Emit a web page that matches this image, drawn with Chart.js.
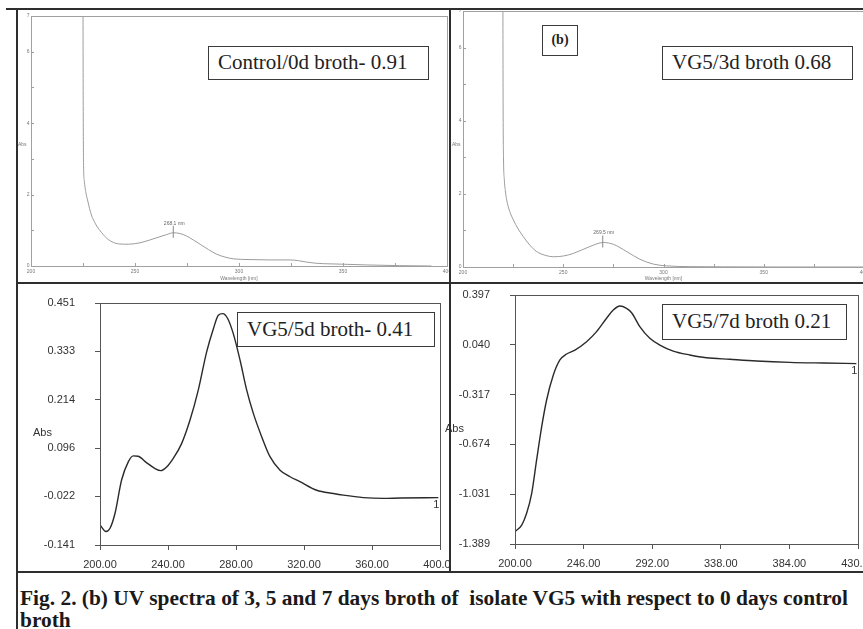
<!DOCTYPE html>
<html>
<head>
<meta charset="utf-8">
<script src="https://cdn.jsdelivr.net/npm/chart.js@4.4.0/dist/chart.umd.min.js"></script>
<style>
  body { margin: 0; width: 863px; height: 629px; overflow: hidden; background: #fff; position: relative; font-family: "Liberation Sans", Arial, sans-serif; }
  canvas { position: absolute; }
  .rule { position: absolute; background: #2e2e2e; z-index: 5; }
  .box { position: absolute; box-sizing: border-box; border: 1.5px solid #3a3a3a; background: #fff; font-family: "Liberation Serif", "Times New Roman", serif; font-size: 21px; color: #222; padding-left: 9px; white-space: nowrap; z-index: 3; }
  .abs { position: absolute; color: #333; z-index: 2; }
  .tiny { font-size: 5px; color: #777; }
  .caption { position: absolute; left: 20px; top: 587px; font-family: "Liberation Serif", "Times New Roman", serif; font-weight: bold; font-size: 20px; line-height: 22px; color: #1a1a1a; white-space: pre; transform-origin: 0 0; }
</style>
</head>
<body>

<canvas id="control" width="431" height="272" style="left:18px; top:10px"></canvas>
<canvas id="day3" width="420" height="272" style="left:451px; top:10px"></canvas>
<canvas id="day5" width="431" height="287" style="left:18px; top:284px"></canvas>
<canvas id="day7" width="412" height="287" style="left:451px; top:284px"></canvas>

<div class="rule" style="left:6px; top:8px; width:857px; height:2px"></div>
<div class="rule" style="left:16px; top:8px; width:2px; height:621px"></div>
<div class="rule" style="left:449px; top:8px; width:2px; height:565px"></div>
<div class="rule" style="left:16px; top:282px; width:847px; height:2px"></div>
<div class="rule" style="left:16px; top:571px; width:847px; height:2px"></div>

<div class="box" style="left:208px; top:46px; width:221px; height:34px; line-height:31px">Control/0d broth- 0.91</div>
<div class="box" style="left:542px; top:25px; width:36px; height:31px; line-height:28px; padding:0; text-align:center; font-weight:bold; font-size:14px">(b)</div>
<div class="box" style="left:662px; top:46px; width:191px; height:34px; line-height:31px">VG5/3d broth 0.68</div>
<div class="box" style="left:237px; top:312px; width:198px; height:35px; line-height:32px">VG5/5d broth- 0.41</div>
<div class="box" style="left:662px; top:304px; width:185px; height:36px; line-height:33px">VG5/7d broth 0.21</div>

<div class="abs tiny" style="left:18px; top:141px">Abs</div>
<div class="abs tiny" style="left:452px; top:141px">Abs</div>
<div class="abs" style="left:33px; top:426px; font-size:11px">Abs</div>
<div class="abs" style="left:445px; top:422px; font-size:11px">Abs</div>

<div class="caption" id="caption">Fig. 2. (b) UV spectra of 3, 5 and 7 days broth of  isolate VG5 with respect to 0 days control
broth</div>

<script>
// control / 0 day broth
const controlWavelength = [225.0, 225.1, 225.25, 225.6, 226.4, 227.3, 228.2, 229.2, 230.4, 231.6, 234.0, 237.2, 242.0, 246.8, 252.4, 257.2, 262.0, 265.2, 268.4, 271.6, 274.8, 278.0, 281.3, 285.3, 289.3, 293.3, 297.3, 305.3, 315.0, 324.5, 328.5, 332.5, 336.5, 340.5, 350.0, 361.3, 377.3, 392.5];
const controlAbs = [7.3, 4.5, 2.9, 2.4, 2.05, 1.82, 1.60, 1.40, 1.25, 1.12, 0.93, 0.74, 0.62, 0.61, 0.65, 0.73, 0.82, 0.88, 0.93, 0.91, 0.84, 0.73, 0.61, 0.46, 0.33, 0.25, 0.20, 0.18, 0.17, 0.17, 0.15, 0.11, 0.08, 0.065, 0.05, 0.03, 0.01, 0.0];
const controlPeak = [268.4, 0.93];

// VG5 3 day broth
const day3Wavelength = [219.9, 220.0, 220.2, 220.6, 221.2, 221.8, 223.3, 225.1, 227.5, 230.1, 233.3, 236.8, 241.0, 245.0, 250.0, 255.0, 263.3, 270.0, 275.0, 281.7, 288.3, 294.9, 301.6, 313.0, 330.0, 360.0, 400.0];
const day3Abs = [7.3, 4.5, 3.0, 2.4, 2.05, 1.83, 1.52, 1.29, 1.04, 0.83, 0.60, 0.42, 0.32, 0.28, 0.30, 0.37, 0.56, 0.67, 0.62, 0.42, 0.21, 0.08, 0.03, 0.01, 0.005, 0.0, 0.0];
const day3Peak = [269.7, 0.67];

// VG5 5 day broth
const day5Wavelength = [200.0, 203.5, 205.9, 208.8, 212.7, 216.7, 219.6, 222.5, 227.5, 232.4, 235.7, 239.2, 243.1, 248.0, 252.9, 257.8, 262.7, 266.7, 269.6, 272.2, 275.1, 278.4, 282.4, 286.3, 290.2, 295.1, 300.0, 305.9, 311.8, 317.6, 327.5, 337.3, 343.1, 354.9, 366.7, 376.5, 399.0];
const day5Abs = [-0.092, -0.108, -0.100, -0.064, 0.018, 0.063, 0.077, 0.076, 0.060, 0.046, 0.041, 0.050, 0.071, 0.107, 0.164, 0.238, 0.331, 0.388, 0.421, 0.425, 0.413, 0.376, 0.311, 0.238, 0.181, 0.124, 0.075, 0.042, 0.026, 0.014, -0.007, -0.015, -0.019, -0.025, -0.027, -0.026, -0.025];

// VG5 7 day broth
const day7Wavelength = [200.0, 204.5, 207.8, 211.2, 214.5, 217.9, 221.2, 225.7, 230.1, 234.6, 240.2, 248.0, 254.7, 261.4, 265.9, 270.3, 274.8, 278.2, 283.7, 290.4, 297.1, 306.1, 317.2, 328.4, 344.0, 361.9, 384.2, 406.6, 428.9];
const day7Abs = [-1.300, -1.253, -1.169, -1.026, -0.786, -0.547, -0.356, -0.177, -0.069, -0.026, 0.002, 0.062, 0.134, 0.230, 0.289, 0.318, 0.301, 0.270, 0.170, 0.086, 0.038, -0.005, -0.033, -0.053, -0.064, -0.076, -0.086, -0.091, -0.095];

// ticks
const topXTicks = [200, 225, 250, 275, 300, 325, 350, 375, 400];
const topXLabels = ['200', '', '250', '', '300', '', '350', '', '400'];
const topYTicks = [0, 1, 2, 3, 4, 5, 6, 7];
const topYLabels = ['0', '', '2', '', '4', '', '6', '7'];
const day5XTicks = [200, 240, 280, 320, 360, 400];
const day5XLabels = ['200.00', '240.00', '280.00', '320.00', '360.00', '400.00'];
const day5YTicks = [-0.141, -0.022, 0.096, 0.214, 0.333, 0.451];
const day5YLabels = ['-0.141', '-0.022', '0.096', '0.214', '0.333', '0.451'];
const day7XTicks = [200, 246, 292, 338, 384, 430];
const day7XLabels = ['200.00', '246.00', '292.00', '338.00', '384.00', '430.00'];
const day7YTicks = [-1.389, -1.031, -0.674, -0.317, 0.040, 0.397];
const day7YLabels = ['-1.389', '-1.031', '-0.674', '-0.317', '0.040', '0.397'];

const sansFont = '"Liberation Sans", Arial, sans-serif';

const panelExtras = {
    id: 'panelExtras',
    afterDatasetsDraw(chart, args, opts) {
        const ctx = chart.ctx;
        const { left, right, top, bottom } = chart.chartArea;
        const xs = chart.scales.x, ys = chart.scales.y;
        ctx.save();
        ctx.strokeStyle = opts.frameColor;
        ctx.lineWidth = 1;
        ctx.strokeRect(Math.round(left) + 0.5, Math.round(top) + 0.5, Math.round(right - left), Math.round(bottom - top));

        if (opts.innerTicks) {
            ctx.beginPath();
            xs.ticks.forEach(t => {
                const px = Math.round(xs.getPixelForValue(t.value)) + 0.5;
                ctx.moveTo(px, bottom);
                ctx.lineTo(px, bottom - 3);
            });
            ys.ticks.forEach(t => {
                const py = Math.round(ys.getPixelForValue(t.value)) + 0.5;
                ctx.moveTo(left, py);
                ctx.lineTo(left + 3, py);
            });
            ctx.stroke();
        }

        if (opts.peak) {
            const px = xs.getPixelForValue(opts.peak[0]);
            const py = ys.getPixelForValue(opts.peak[1]);
            ctx.strokeStyle = '#888';
            ctx.beginPath();
            ctx.moveTo(px, py - 7);
            ctx.lineTo(px, py + 5);
            ctx.stroke();
            ctx.fillStyle = '#666';
            ctx.font = '5px ' + sansFont;
            ctx.textAlign = 'center';
            ctx.textBaseline = 'bottom';
            ctx.fillText(opts.peakLabel, px + 1, py - 7);
        }

        if (opts.endLabel) {
            const pts = chart.getDatasetMeta(0).data;
            const last = pts[pts.length - 1];
            ctx.fillStyle = '#333';
            ctx.font = '11px ' + sansFont;
            ctx.textAlign = 'center';
            ctx.textBaseline = 'middle';
            ctx.fillText(opts.endLabel, last.x - 2, last.y + 7);
        }
        ctx.restore();
    }
};

function spectrumChart(canvasId, s) {
    const small = s.small;
    const tickFont = { family: sansFont, size: small ? 5 : 11 };
    const tickColor = small ? '#777' : '#333';
    const axisColor = small ? '#a0a0a0' : '#555';
    return new Chart(document.getElementById(canvasId), {
        type: 'line',
        data: {
            datasets: [{
                data: s.wavelength.map((w, i) => ({ x: w, y: s.abs[i] })),
                borderColor: small ? '#9c9c9c' : '#2a2a2a',
                borderWidth: small ? 1 : 1.4,
                pointRadius: 0,
                cubicInterpolationMode: 'monotone',
                fill: false
            }]
        },
        options: {
            responsive: false,
            animation: false,
            devicePixelRatio: 1,
            events: [],
            layout: { padding: { top: s.padTop, right: s.padRight, bottom: 0, left: 0 } },
            plugins: {
                legend: { display: false },
                tooltip: { enabled: false },
                panelExtras: {
                    frameColor: axisColor,
                    innerTicks: small,
                    peak: s.peak,
                    peakLabel: s.peakLabel,
                    endLabel: s.endLabel
                }
            },
            scales: {
                x: {
                    type: 'linear',
                    min: s.xMin,
                    max: s.xMax,
                    afterBuildTicks: sc => { sc.ticks = s.xTicks.map(v => ({ value: v })); },
                    afterFit: sc => { sc.height = s.xAxisHeight; sc.paddingLeft = 0; sc.paddingRight = 0; },
                    ticks: {
                        autoSkip: false,
                        maxRotation: 0,
                        padding: small ? 3 : 8,
                        font: tickFont,
                        color: tickColor,
                        callback: (v, i) => s.xLabels[i]
                    },
                    grid: { display: !small, drawOnChartArea: false, drawTicks: !small, tickLength: 5, color: axisColor },
                    border: { display: true, color: axisColor, width: 1 },
                    title: {
                        display: small,
                        text: 'Wavelength [nm]',
                        font: { family: sansFont, size: 5 },
                        color: '#777',
                        padding: { top: 0, bottom: 0 }
                    }
                },
                y: {
                    type: 'linear',
                    min: s.yMin,
                    max: s.yMax,
                    afterBuildTicks: sc => { sc.ticks = s.yTicks.map(v => ({ value: v })); },
                    afterFit: sc => { sc.width = s.yAxisWidth; sc.paddingTop = 0; sc.paddingBottom = 0; },
                    ticks: {
                        autoSkip: false,
                        padding: small ? 1.5 : 20,
                        font: tickFont,
                        color: tickColor,
                        callback: (v, i) => s.yLabels[i]
                    },
                    grid: { display: !small, drawOnChartArea: false, drawTicks: !small, tickLength: 5, color: axisColor },
                    border: { display: true, color: axisColor, width: 1 }
                }
            }
        },
        plugins: [panelExtras]
    });
}

spectrumChart('control', {
    small: true, wavelength: controlWavelength, abs: controlAbs,
    xMin: 200, xMax: 400, yMin: 0, yMax: 7,
    xTicks: topXTicks, xLabels: topXLabels, yTicks: topYTicks, yLabels: topYLabels,
    padTop: 6, padRight: 2, yAxisWidth: 13, xAxisHeight: 16,
    peak: controlPeak, peakLabel: '268.1 nm'
});

spectrumChart('day3', {
    small: true, wavelength: day3Wavelength, abs: day3Abs,
    xMin: 200, xMax: 400, yMin: 0, yMax: 7,
    xTicks: topXTicks, xLabels: topXLabels, yTicks: topYTicks, yLabels: topYLabels,
    padTop: 1, padRight: 7, yAxisWidth: 12, xAxisHeight: 15,
    peak: day3Peak, peakLabel: '269.5 nm'
});

spectrumChart('day5', {
    small: false, wavelength: day5Wavelength, abs: day5Abs,
    xMin: 200, xMax: 400, yMin: -0.141, yMax: 0.451,
    xTicks: day5XTicks, xLabels: day5XLabels, yTicks: day5YTicks, yLabels: day5YLabels,
    padTop: 19, padRight: 9, yAxisWidth: 82, xAxisHeight: 26,
    endLabel: '1'
});

spectrumChart('day7', {
    small: false, wavelength: day7Wavelength, abs: day7Abs,
    xMin: 200, xMax: 430, yMin: -1.389, yMax: 0.397,
    xTicks: day7XTicks, xLabels: day7XLabels, yTicks: day7YTicks, yLabels: day7YLabels,
    padTop: 11, padRight: 5, yAxisWidth: 64, xAxisHeight: 27,
    endLabel: '1'
});

// squeeze the caption to the width it has in the figure
const caption = document.getElementById('caption');
const firstLine = document.createElement('span');
firstLine.style.cssText = 'position:absolute; visibility:hidden; white-space:pre; font:bold 20px "Liberation Serif", serif';
firstLine.textContent = 'Fig. 2. (b) UV spectra of 3, 5 and 7 days broth of  isolate VG5 with respect to 0 days control';
document.body.appendChild(firstLine);
caption.style.transform = 'scaleX(' + (828 / firstLine.getBoundingClientRect().width) + ')';
firstLine.remove();
</script>
</body>
</html>
